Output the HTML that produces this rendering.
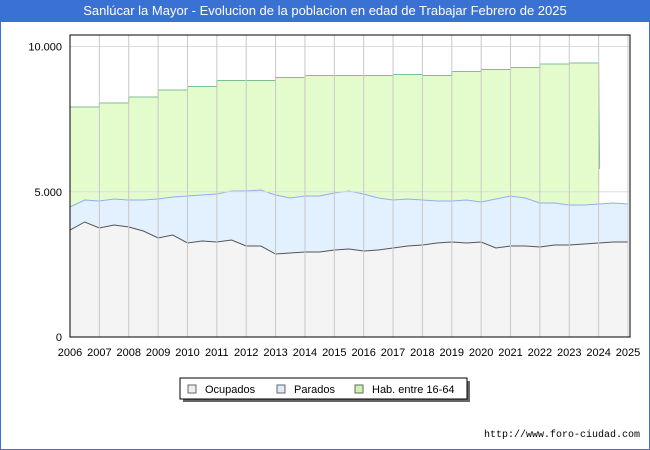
<!DOCTYPE html>
<html><head><meta charset="utf-8"><style>
body{margin:0;width:650px;height:450px;background:#fff;font-family:"Liberation Sans","DejaVu Sans",sans-serif;overflow:hidden}
#wrap{position:absolute;left:0;top:0;width:648px;height:449px;border:1px solid #3a72d4;border-top:none}
#title{position:absolute;left:0;top:0;width:650px;height:22px;background:#3a72d4;color:#fff;font-size:13px;line-height:22px;text-align:center}
</style></head><body>
<div id="wrap"></div>
<div id="title">Sanlúcar la Mayor - Evolucion de la poblacion en edad de Trabajar Febrero de 2025</div>
<svg id="c" width="650" height="450" style="position:absolute;left:0;top:0"></svg>
<script>
const years=[2006,2007,2008,2009,2010,2011,2012,2013,2014,2015,2016,2017,2018,2019,2020,2021,2022,2023,2024,2025];
const habYears=[2006,2007,2008,2009,2010,2011,2012,2013,2014,2015,2016,2017,2018,2019,2020,2021,2022,2023];
const habValues=[7917,8055,8262,8503,8623,8830,8830,8933,9002,9002,9002,9036,9002,9140,9208,9277,9398,9432];
const habLast=5783;
const sampleTimes=[2006,2006.5,2007,2007.5,2008,2008.5,2009,2009.5,2010,2010.5,2011,2011.5,2012,2012.5,2013,2013.5,2014,2014.5,2015,2015.5,2016,2016.5,2017,2017.5,2018,2018.5,2019,2019.5,2020,2020.5,2021,2021.5,2022,2022.5,2023,2023.5,2024,2024.5,2025];
const ocupados=[3683,3959,3752,3855,3787,3649,3408,3511,3236,3305,3270,3339,3132,3132,2857,2892,2926,2926,2995,3029,2960,2995,3064,3132,3167,3236,3270,3236,3270,3064,3132,3132,3098,3167,3167,3201,3236,3270,3270];
const paradosTop=[4475,4716,4682,4750,4716,4716,4750,4819,4853,4888,4922,5026,5026,5060,4888,4785,4853,4853,4957,5026,4922,4785,4716,4750,4716,4682,4682,4716,4647,4750,4853,4785,4613,4613,4544,4544,4578,4613,4578];
const yTicks=[0,5000,10000];
const yTickLabels=["0","5.000","10.000"];

const NS="http://www.w3.org/2000/svg";
const svg=document.getElementById('c');
const X0=70,X1=628,Y0=337,Y10=46.5;
const x=t=>X0+(t-2006)*(X1-X0)/19;
const y=v=>Y0-v*(Y0-Y10)/10000;
function mk(tag,attrs,parent){const e=document.createElementNS(NS,tag);for(const k in attrs)e.setAttribute(k,attrs[k]);(parent||svg).appendChild(e);return e;}

mk('rect',{x:X0,y:35,width:X1-X0+2,height:Y0-35,fill:'#fff'});
// hab area
let hp=`M${x(2006)},${y(0)}`;
habValues.forEach((v,i)=>{hp+=` L${x(habYears[i])},${y(v)} L${x(habYears[i]+1)},${y(v)}`;});
hp+=` L${x(2024)+1},${y(habLast)} L${x(2024)+1},${y(0)} Z`;
let e=mk('path',{d:hp,fill:'#e4fccc',stroke:'none'});

let hl=`M${x(2006)},${y(habValues[0])}`;
habValues.forEach((v,i)=>{hl+=` L${x(habYears[i])},${y(v)} L${x(habYears[i]+1)},${y(v)}`;});
hl+=` L${x(2024)+1},${y(habLast)}`;
e=mk('path',{d:hl,fill:'none',stroke:'#7cbf94','stroke-width':1});

// parados area
let pp=sampleTimes.map((t,i)=>`${i?'L':'M'}${x(t)},${y(paradosTop[i])}`).join(' ');
e=mk('path',{d:pp+` L${x(2025)},${y(0)} L${x(2006)},${y(0)} Z`,fill:'#e3f0fd'});

e=mk('path',{d:pp,fill:'none',stroke:'#8fb0ee','stroke-width':1});

let op=sampleTimes.map((t,i)=>`${i?'L':'M'}${x(t)},${y(ocupados[i])}`).join(' ');
e=mk('path',{d:op+` L${x(2025)},${y(0)} L${x(2006)},${y(0)} Z`,fill:'#f4f4f4'});

e=mk('path',{d:op,fill:'none',stroke:'#555','stroke-width':1});

// grid
yTicks.forEach((v,i)=>{
  if(v>0){e=mk('line',{x1:X0,x2:X1+2,y1:y(v),y2:y(v),stroke:'#ddd'});}
  e=mk('text',{x:62,y:y(v)+4,'text-anchor':'end','font-size':11,fill:'#000'});e.textContent=yTickLabels[i];
  
});
years.forEach(yr=>{
  if(yr>2006){e=mk('line',{x1:x(yr),x2:x(yr),y1:35,y2:Y0,stroke:'#c8c8c8'});}
  e=mk('text',{x:x(yr),y:356,'text-anchor':'middle','font-size':11,fill:'#000'});e.textContent=yr;
  
});
e=mk('rect',{x:X0,y:35,width:X1-X0+2,height:Y0-35,fill:'none',stroke:'#000'});

// legend
const lg=mk('g',{});

mk('rect',{x:183,y:381,width:287,height:21,fill:'#666'},lg);
mk('rect',{x:180,y:378,width:287,height:21,fill:'#fff',stroke:'#000'},lg);
[["Ocupados","#eeeeee",188],["Parados","#dcebfb",277],["Hab. entre 16-64","#ccf5a8",355]].forEach(([n,c,lx])=>{
  const g=mk('g',{},lg);
  mk('rect',{x:lx,y:385,width:8,height:8,fill:c,stroke:'#666'},g);
  const t=mk('text',{x:lx+17,y:393,'font-size':11,fill:'#000'},g);t.textContent=n;
});
e=mk('text',{x:640,y:437,'text-anchor':'end','font-size':10,fill:'#000','font-family':'Liberation Mono, monospace'});e.textContent='http://www.foro-ciudad.com';

</script>
</body></html>
